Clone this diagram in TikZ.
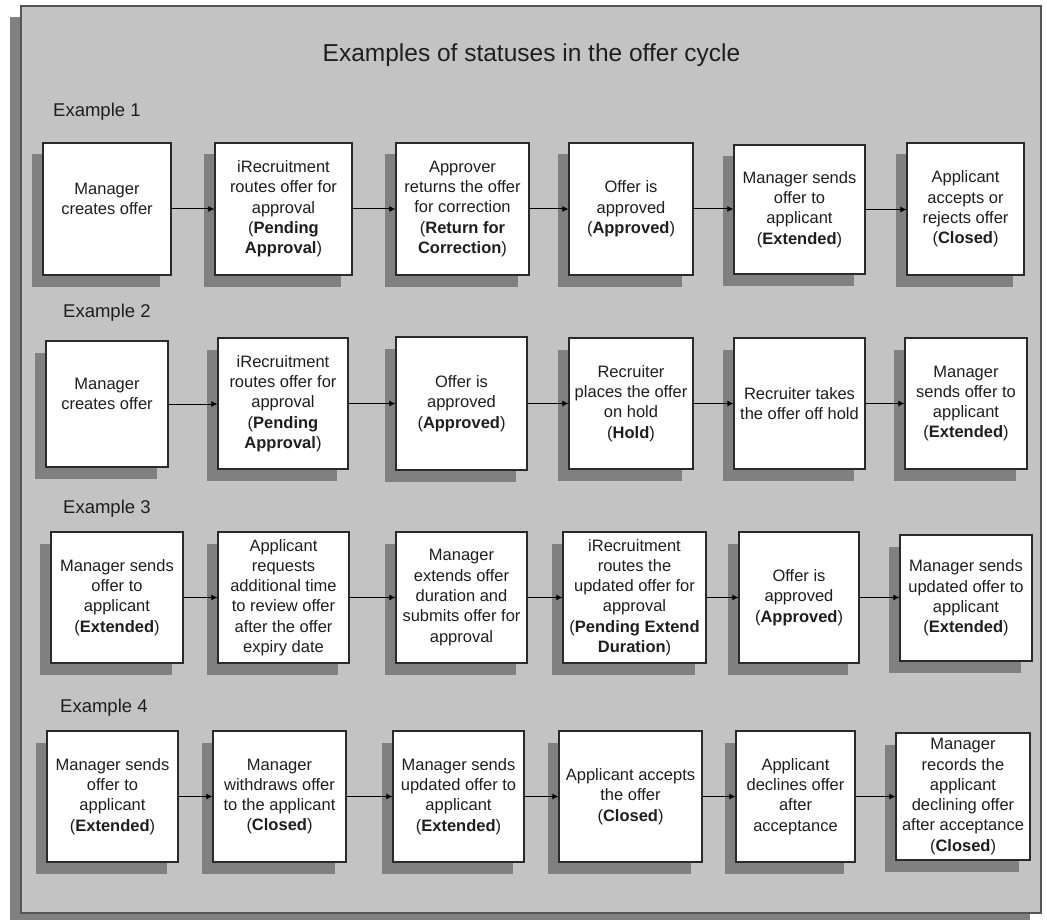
\documentclass[tikz,border=0pt]{standalone}
\usepackage{fontspec}
\setmainfont{Liberation Sans}
\usetikzlibrary{shadows,arrows.meta}
\definecolor{panelgray}{HTML}{C3C3C3}
\definecolor{shadowgray}{HTML}{808080}
\definecolor{boxline}{HTML}{2A2A2A}
\definecolor{txt}{HTML}{1E1E1E}
\tikzset{
  stepbox/.style={draw=boxline, line width=1.2pt, fill=white, align=center, inner sep=0pt,
    text=txt, font=\fontsize{16.5}{20.3}\selectfont,
    drop shadow={shadow xshift=-11.5pt, shadow yshift=-11.5pt, fill=shadowgray, opacity=1}},
  exlabel/.style={anchor=base west, inner sep=0pt, text=txt, font=\fontsize{18.5}{22}\selectfont},
  flow/.style={draw=black, line width=1pt, -{Latex[length=6pt,width=6pt]}}
}
\begin{document}
\begin{tikzpicture}[x=1pt,y=-1pt]
\useasboundingbox (0,0) rectangle (1047,920);
% panel
\fill[shadowgray] (10,17) rectangle (1030,920);
\draw[draw=boxline!80, line width=1.5pt, fill=panelgray] (21,6) rectangle (1041,913);
% title and labels
\node[anchor=base, inner sep=0pt, text=txt, font=\fontsize{24.5}{29}\selectfont] (title) at (531.5,62) {Examples of statuses in the offer cycle};
\node[exlabel] (ex1) at (53,117) {Example 1};
\node[exlabel] (ex2) at (63,317) {Example 2};
\node[exlabel] (ex3) at (63,513) {Example 3};
\node[exlabel] (ex4) at (60,712) {Example 4};
% row 1
\node[stepbox, minimum width=128pt, minimum height=132pt] (b11) at (107,209) {Manager\\creates offer\\\mbox{}};
\node[stepbox, minimum width=137pt, minimum height=132pt] (b12) at (283.5,209) {iRecruitment\\routes offer for\\approval\\(\textbf{Pending}\\\textbf{Approval})};
\node[stepbox, minimum width=133pt, minimum height=132pt] (b13) at (462.5,209) {Approver\\returns the offer\\for correction\\(\textbf{Return for}\\\textbf{Correction})};
\node[stepbox, minimum width=124pt, minimum height=132pt] (b14) at (631,209) {Offer is\\approved\\(\textbf{Approved})};
\node[stepbox, minimum width=131pt, minimum height=129pt] (b15) at (799.5,209.5) {Manager sends\\offer to\\applicant\\(\textbf{Extended})};
\node[stepbox, minimum width=117pt, minimum height=132pt] (b16) at (965.5,209) {Applicant\\accepts or\\rejects offer\\(\textbf{Closed})};
% row 2
\node[stepbox, minimum width=122pt, minimum height=126pt] (b21) at (107,404) {Manager\\creates offer\\\mbox{}};
\node[stepbox, minimum width=130pt, minimum height=131pt] (b22) at (283,403.5) {iRecruitment\\routes offer for\\approval\\(\textbf{Pending}\\\textbf{Approval})};
\node[stepbox, minimum width=131pt, minimum height=133pt] (b23) at (461.5,403.5) {Offer is\\approved\\(\textbf{Approved})};
\node[stepbox, minimum width=124pt, minimum height=131pt] (b24) at (631,403.5) {Recruiter\\places the offer\\on hold\\(\textbf{Hold})};
\node[stepbox, minimum width=131pt, minimum height=131pt] (b25) at (799.5,403.5) {Recruiter takes\\the offer off hold};
\node[stepbox, minimum width=122pt, minimum height=131pt] (b26) at (966,403.5) {Manager\\sends offer to\\applicant\\(\textbf{Extended})};
% row 3
\node[stepbox, minimum width=132pt, minimum height=131pt] (b31) at (117,597.5) {Manager sends\\offer to\\applicant\\(\textbf{Extended})};
\node[stepbox, minimum width=131pt, minimum height=131pt] (b32) at (283.5,597.5) {Applicant\\requests\\additional time\\to review offer\\after the offer\\expiry date};
\node[stepbox, minimum width=131pt, minimum height=131pt] (b33) at (461.5,597.5) {Manager\\extends offer\\duration and\\submits offer for\\approval};
\node[stepbox, minimum width=143pt, minimum height=131pt] (b34) at (634.5,597.5) {iRecruitment\\routes the\\updated offer for\\approval\\(\textbf{Pending Extend}\\\textbf{Duration})};
\node[stepbox, minimum width=120pt, minimum height=131pt] (b35) at (799,597.5) {Offer is\\approved\\(\textbf{Approved})};
\node[stepbox, minimum width=132pt, minimum height=126pt] (b36) at (966,598) {Manager sends\\updated offer to\\applicant\\(\textbf{Extended})};
% row 4
\node[stepbox, minimum width=131pt, minimum height=131pt] (b41) at (112.5,796.5) {Manager sends\\offer to\\applicant\\(\textbf{Extended})};
\node[stepbox, minimum width=133pt, minimum height=131pt] (b42) at (279.5,796.5) {Manager\\withdraws offer\\to the applicant\\(\textbf{Closed})};
\node[stepbox, minimum width=131pt, minimum height=131pt] (b43) at (458.5,796.5) {Manager sends\\updated offer to\\applicant\\(\textbf{Extended})};
\node[stepbox, minimum width=143pt, minimum height=131pt] (b44) at (630.5,796.5) {Applicant accepts\\the offer\\(\textbf{Closed})};
\node[stepbox, minimum width=119pt, minimum height=131pt] (b45) at (795.5,796.5) {Applicant\\declines offer\\after\\acceptance};
\node[stepbox, minimum width=134pt, minimum height=127pt] (b46) at (963,796.5) {Manager\\records the\\applicant\\declining offer\\after acceptance\\(\textbf{Closed})};
% arrows
\foreach \r in {1,2,3,4}{
  \foreach \a/\b in {1/2,2/3,3/4,4/5,5/6}{
    \draw[flow] (b\r\a.east) -- (b\r\a.east -| b\r\b.west);
  }
}
\end{tikzpicture}
\end{document}
